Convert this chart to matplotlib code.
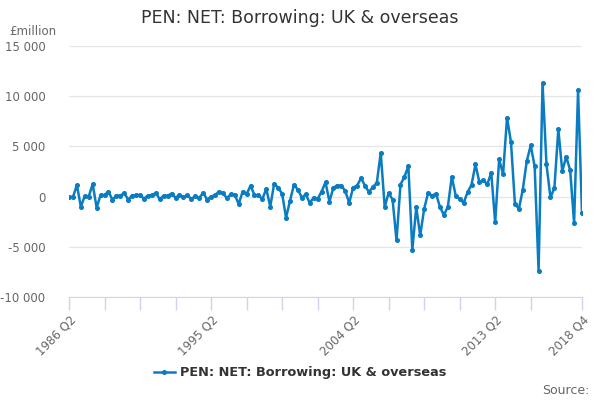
import matplotlib
matplotlib.use("Agg")
import matplotlib.pyplot as plt
from matplotlib.ticker import FuncFormatter

# quarterly periods 1986 Q2 .. 2018 Q4
quarters = [f"{y} Q{q}" for y in range(1986, 2019) for q in range(1, 5)][1:]

borrowing = [
    0, -50, 1150, -1000, 50, 0, 1250, -1100, 150, 150,
    500, -300, 100, 100, 350, -300, 100, 150, 150, -200,
    100, 150, 350, -250, 100, 100, 300, -100, 150, -50,
    150, -250, 50, -150, 400, -300, 0, 150, 500, 350,
    -150, 230, 200, -750, 500, 230, 1100, 150, 130, -230,
    770, -1000, 1300, 870, 300, -2100, -430, 1170, 700, -100,
    230, -630, -100, -230, 500, 1430, -500, 900, 1100, 1100,
    570, -630, 900, 1100, 1830, 1100, 450, 970, 1370, 4370,
    -1030, 370, -300, -4370, 1200, 1970, 3030, -5300, -1070, -3870,
    -1230, 370, 100, 300, -1030, -1830, -1030, 1970, 100, -230,
    -630, 430, 1170, 3200, 1430, 1630, 1230, 2370, -2570, 3700,
    2230, 7870, 5430, -700, -1230, 700, 3530, 5100, 3030, -7400,
    11300, 3200, -70, 830, 6700, 2530, 3970, 2630, -2630, 10570,
    -1630,
]

label_periods = ["1986 Q2", "1995 Q2", "2004 Q2", "2013 Q2", "2018 Q4"]
y_ticks = [-10000, -5000, 0, 5000, 10000, 15000]
series_name = "PEN: NET: Borrowing: UK & overseas"

blue = "#0a7cc1"
axis_col = "#ccd6eb"

fig = plt.figure(figsize=(6, 4), dpi=100)
ax = fig.add_axes([0.115, 0.2575, 0.855, 0.6275])

x = list(range(len(quarters)))
line, = ax.plot(x, borrowing, color=blue, lw=1.8, marker="o", ms=2.6,
                zorder=3, solid_joinstyle="round")

ax.set_xlim(0, len(quarters) - 1)
ax.set_ylim(-10000, 15000)
ax.set_yticks(y_ticks)
ax.yaxis.set_major_formatter(FuncFormatter(lambda v, p: f"{int(v):,}".replace(",", " ")))
ax.grid(axis="y", color="#e6e6e6", lw=0.9)
ax.set_axisbelow(True)

# ticks every 9 quarters plus the last one, labelled only at chosen periods
tick_pos = list(range(0, len(quarters) - 9, 9)) + [len(quarters) - 1]
ax.set_xticks(tick_pos)
ax.set_xticklabels([quarters[i] if quarters[i] in label_periods else "" for i in tick_pos],
                   rotation=45, ha="right", rotation_mode="anchor")

for s in ["top", "right", "left"]:
    ax.spines[s].set_visible(False)
ax.spines["bottom"].set_color(axis_col)
ax.tick_params(axis="x", colors=axis_col, length=9, width=1, labelcolor="#666666",
               labelsize=8.5, pad=3)
ax.tick_params(axis="y", length=0, labelcolor="#666666", labelsize=8.5, pad=17)

fig.text(0.5, 0.955, series_name, ha="center", va="center", fontsize=12.5, color="#333333")
fig.text(0.055, 0.922, "£million", ha="center", va="center", fontsize=8.5, color="#666666")
fig.text(0.982, 0.025, "Source:", ha="right", va="center", fontsize=9, color="#666666")

leg = fig.legend([line], [series_name], loc="center", bbox_to_anchor=(0.5, 0.068),
                 frameon=False, handlelength=1.6, handletextpad=0.4,
                 prop={"weight": "bold", "size": 9.3})
for t in leg.get_texts():
    t.set_color("#333333")

fig.savefig("out.png", dpi=100)
